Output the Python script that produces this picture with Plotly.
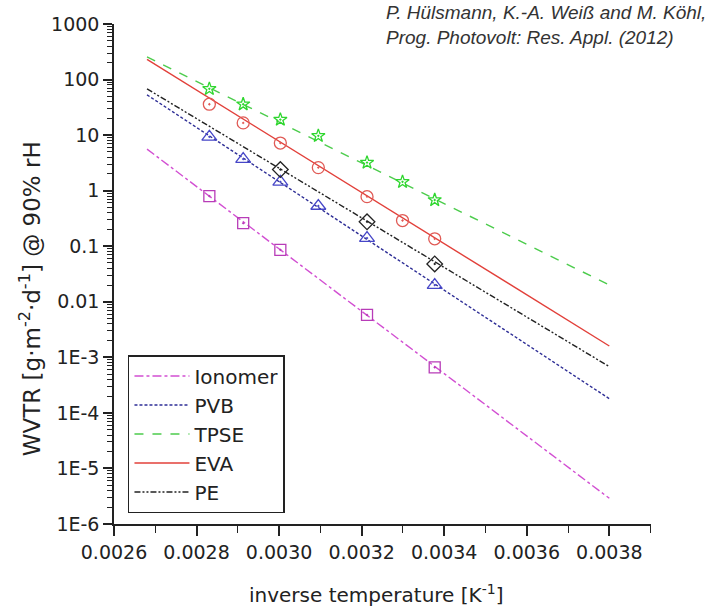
import plotly.graph_objects as go

# ---- data ----
inv_temp = [0.002831, 0.002913, 0.003003, 0.003095, 0.003213, 0.003299, 0.003377]

tpse_x = inv_temp
tpse_y = [68, 36, 19, 9.7, 3.2, 1.44, 0.68]

eva_x = inv_temp
eva_y = [36, 16.6, 7.2, 2.6, 0.78, 0.29, 0.136]

pvb_x = [0.002831, 0.002913, 0.003003, 0.003095, 0.003213, 0.003377]
pvb_y = [9.3, 3.7, 1.44, 0.53, 0.14, 0.020]

pe_x = [0.003003, 0.003213, 0.003377]
pe_y = [2.4, 0.275, 0.048]

ionomer_x = [0.002831, 0.002913, 0.003003, 0.003213, 0.003377]
ionomer_y = [0.80, 0.26, 0.086, 0.0058, 0.00066]

# fitted Arrhenius lines (end points)
fit_x = [0.00268, 0.0038]
fit_tpse = [255, 0.020]
fit_eva = [230, 0.0016]
fit_pe = [68, 0.00068]
fit_pvb = [53, 0.00018]
fit_ionomer = [5.6, 0.0000029]

x_ticks = [0.0026, 0.0028, 0.0030, 0.0032, 0.0034, 0.0036, 0.0038]
x_ticktext = ["0.0026", "0.0028", "0.0030", "0.0032", "0.0034", "0.0036", "0.0038"]
y_ticks = [1e-6, 1e-5, 1e-4, 1e-3, 0.01, 0.1, 1, 10, 100, 1000]
y_ticktext = ["1E-6", "1E-5", "1E-4", "1E-3", "0.01", "0.1", "1", "10", "100", "1000"]

FONT = "DejaVu Sans, Liberation Sans, Arial, sans-serif"
FONT_CITE = "Liberation Sans, Arial, sans-serif"

fig = go.Figure()

series = [
    ("Ionomer", fit_ionomer, ionomer_x, ionomer_y, "#d24fd2", "#b83cb8", "dashdot", "square-open-dot", 11),
    ("PVB", fit_pvb, pvb_x, pvb_y, "#2e2e96", "#4646c8", "3px,2px", "triangle-up-open-dot", 13),
    ("TPSE", fit_tpse, tpse_x, tpse_y, "#4ccc4c", "#2ed62e", "dash", "star-open-dot", 10),
    ("EVA", fit_eva, eva_x, eva_y, "#e2403a", "#e05a55", "solid", "circle-open-dot", 12),
    ("PE", fit_pe, pe_x, pe_y, "#222222", "#222222", "6px,2px,2px,2px,2px,2px", "diamond-open-dot", 12),
]

for name, fy, px, py, lcol, mcol, dash, sym, msize in series:
    fig.add_trace(go.Scatter(
        x=fit_x, y=fy, mode="lines", name=name,
        line=dict(color=lcol, width=1.4, dash=dash),
        hoverinfo="skip",
    ))
for name, fy, px, py, lcol, mcol, dash, sym, msize in series:
    fig.add_trace(go.Scatter(
        x=px, y=py, mode="markers", name=name, showlegend=False,
        marker=dict(symbol=sym, size=msize, color=mcol, line=dict(color=mcol, width=1.3)),
    ))

fig.update_layout(
    width=722, height=611, autosize=False,
    margin=dict(l=114, r=71, t=24, b=87),
    paper_bgcolor="white", plot_bgcolor="white",
    font=dict(family=FONT, size=19, color="#222222"),
    showlegend=True,
    legend=dict(
        x=0.026, y=0.022, xanchor="left", yanchor="bottom",
        bgcolor="white", bordercolor="#222222", borderwidth=1.5,
        font=dict(family=FONT, size=20, color="#222222"),
        tracegroupgap=0, itemwidth=55,
    ),
    xaxis=dict(
        range=[0.0026, 0.003901], showgrid=False, zeroline=False,
        showline=True, linecolor="#222222", linewidth=1.5,
        tickmode="array", tickvals=x_ticks, ticktext=x_ticktext,
        ticks="outside", ticklen=10, tickwidth=1.5, tickcolor="#222222",
        tickfont=dict(size=19),
        minor=dict(dtick=0.0001, tick0=0.0026, ticks="outside", ticklen=7,
                   tickwidth=1.3, tickcolor="#222222"),
    ),
    yaxis=dict(
        type="log", range=[-6, 3], showgrid=False, zeroline=False,
        showline=True, linecolor="#222222", linewidth=1.5,
        tickmode="array", tickvals=y_ticks, ticktext=y_ticktext,
        ticks="outside", ticklen=9, tickwidth=1.5, tickcolor="#222222",
        tickfont=dict(size=19),
        minor=dict(tickmode="array",
                   tickvals=[m * 10.0 ** e for e in range(-6, 3) for m in range(2, 10)],
                   ticks="outside", ticklen=5, tickwidth=1, tickcolor="#222222"),
    ),
    annotations=[
        dict(text="inverse temperature [K<sup>-1</sup>]", xref="paper", yref="paper",
             x=0.488, y=-0.14, xanchor="center", yanchor="middle", showarrow=False,
             font=dict(family=FONT, size=20, color="#222222")),
        dict(text="WVTR [g·m<sup>-2</sup>·d<sup>-1</sup>] @ 90% rH", xref="paper", yref="paper",
             x=-0.156, y=0.45, xanchor="center", yanchor="middle", textangle=-90,
             showarrow=False, font=dict(family=FONT, size=23, color="#222222")),
        dict(text="<i>P. Hülsmann, K.-A. Weiß and M. Köhl,<br>Prog. Photovolt: Res. Appl. (2012)</i>",
             xref="paper", yref="paper", x=(384 - 114) / 537, y=(524 - 0) / 500,
             xanchor="left", yanchor="top", align="left", showarrow=False,
             font=dict(family=FONT_CITE, size=19, color="#333333")),
    ],
)

fig.write_html("out.html")
